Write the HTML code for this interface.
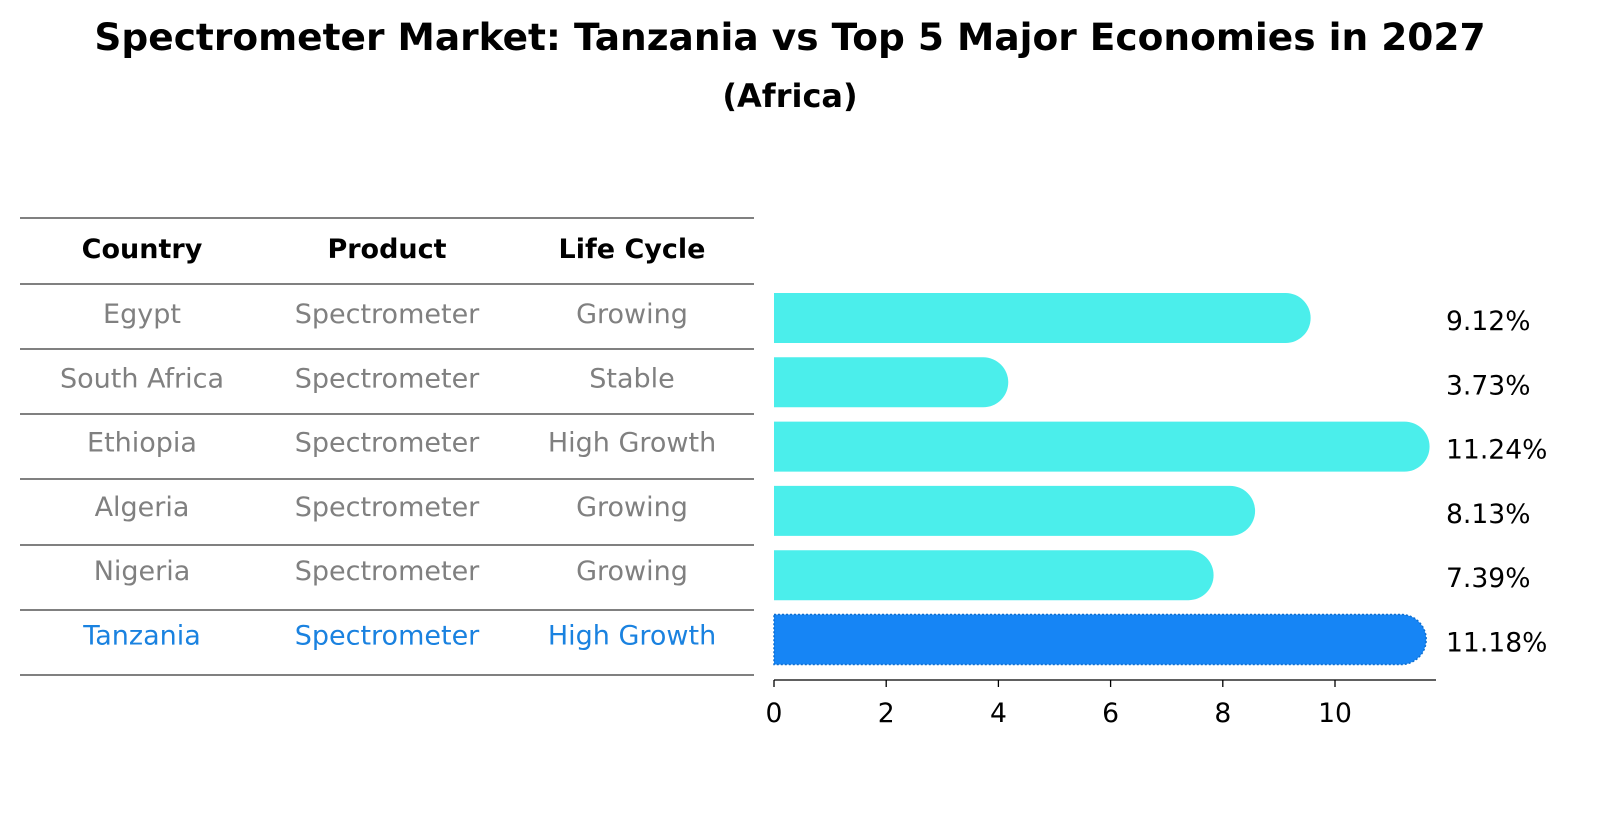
<!DOCTYPE html>
<html><head><meta charset="utf-8"><style>
body{margin:0;background:#fff;font-family:"Liberation Sans","DejaVu Sans",sans-serif}
</style></head><body>
<svg width="1604" height="823" xmlns="http://www.w3.org/2000/svg" font-family="DejaVu Sans, Liberation Sans, sans-serif">
<text x="790" y="50" text-anchor="middle" font-size="37.5" font-weight="bold">Spectrometer Market: Tanzania vs Top 5 Major Economies in 2027</text>
<text x="790" y="107" text-anchor="middle" font-size="32" font-weight="bold">(Africa)</text>
<g id="table"></g>
<g id="bars"></g>
<g id="axis"></g>
</svg>
<script>
const countries=["Egypt","South Africa","Ethiopia","Algeria","Nigeria","Tanzania"];
const products=["Spectrometer","Spectrometer","Spectrometer","Spectrometer","Spectrometer","Spectrometer"];
const lifecycle=["Growing","Stable","High Growth","Growing","Growing","High Growth"];
const values=[9.12,3.73,11.24,8.13,7.39,11.18];
const ticks=[0,2,4,6,8,10];
const NS="http://www.w3.org/2000/svg";
function mk(t,a,p,txt){const e=document.createElementNS(NS,t);for(const k in a)e.setAttribute(k,a[k]);if(txt!==undefined)e.textContent=txt;p.appendChild(e);return e;}
const x0=774,unit=56.1;const xs=v=>x0+v*unit;
const rowY=i=>318+i*64.3;
const tbl=document.getElementById('table'),bars=document.getElementById('bars'),ax=document.getElementById('axis');
const cols=[142,387,632];
const lineYs=[218,284,349,414,479,545,610,675];
lineYs.forEach(y=>{const l=mk('line',{x1:20,x2:754,y1:y,y2:y,stroke:'#000','stroke-width':1},tbl);

});
["Country","Product","Life Cycle"].forEach((h,j)=>{const t=mk('text',{x:cols[j],y:258,'text-anchor':'middle','font-size':27,'font-weight':'bold'},tbl,h);

});
countries.forEach((c,i)=>{const col=i===countries.length-1?'#1a82e0':'#808080';
[c,products[i],lifecycle[i]].forEach((s,j)=>{const t=mk('text',{x:cols[j],y:rowY(i)+5,'text-anchor':'middle','font-size':27,fill:col},tbl,s);

});
const hl=i===countries.length-1;const fill=hl?'#1685f5':'#4beeeb';
const y=rowY(i)-25,xe=xs(values[i]);
const r=mk('path',{d:`M${x0},${y} H${xe} A25,25 0 0 1 ${xe},${y+50} H${x0} Z`,fill:fill,stroke:hl?'#0f6fd0':'none','stroke-width':hl?1.5:0,'stroke-dasharray':hl?'2,2':'none'},bars);


const lb=mk('text',{x:1446,y:rowY(i)+12,'font-size':26.6},bars,values[i].toFixed(2)+'%');

});
mk('line',{x1:x0,x2:1436,y1:680,y2:680,stroke:'#000','stroke-width':1.3},ax);
ticks.forEach(v=>{mk('line',{x1:xs(v),x2:xs(v),y1:680,y2:687,stroke:'#000','stroke-width':1.3},ax);
const t=mk('text',{x:xs(v),y:722,'text-anchor':'middle','font-size':26.6},ax,String(v));

});
</script>
</body></html>
